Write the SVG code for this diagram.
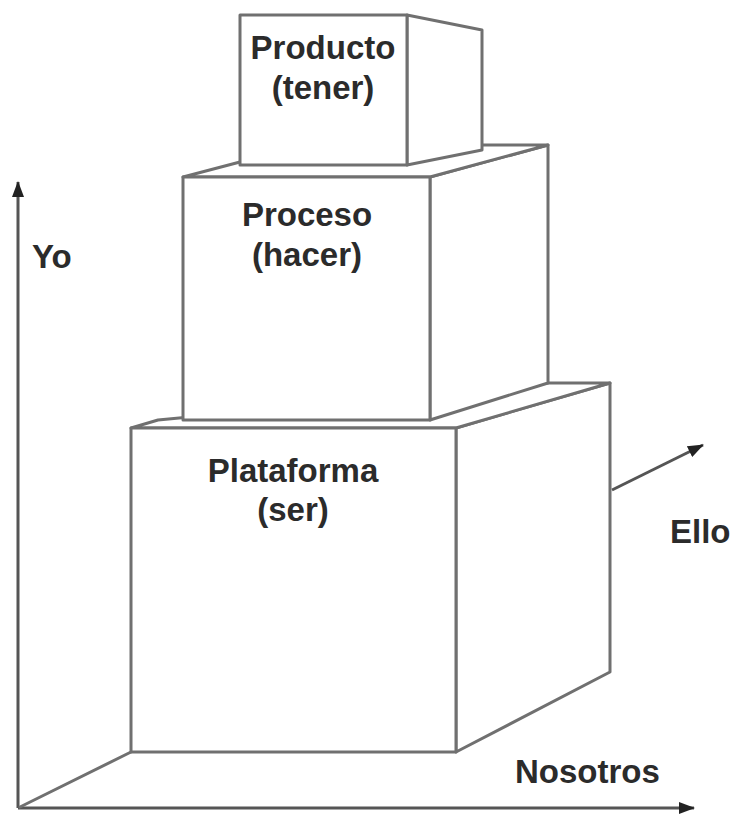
<svg xmlns="http://www.w3.org/2000/svg" width="736" height="819" viewBox="0 0 736 819">
<defs>
<marker id="ahb" markerWidth="16" markerHeight="12" refX="15" refY="6" orient="auto" markerUnits="userSpaceOnUse" viewBox="0 0 16 12">
<path d="M0,0 L16,6 L0,12 z" fill="#222"/>
</marker>
</defs>
<style>
.edge{fill:#fff;stroke:#707070;stroke-width:3;stroke-linejoin:round}
.ln{fill:none;stroke:#707070;stroke-width:3;stroke-linecap:round}
.ax{fill:none;stroke:#555;stroke-width:3}
.t{font-family:"Liberation Sans",Arial,sans-serif;font-weight:bold;font-size:33px;fill:#2b2b2b;text-anchor:middle}
.l{font-family:"Liberation Sans",Arial,sans-serif;font-weight:bold;font-size:33px;fill:#2b2b2b}
</style>
<rect width="736" height="819" fill="#fff"/>
<g id="connectors">
<line class="ax" x1="18" y1="808" x2="18" y2="182" marker-end="url(#ahb)"/>
<line class="ax" x1="18" y1="808" x2="694" y2="808" marker-end="url(#ahb)"/>
<line class="ln" x1="20" y1="807" x2="131" y2="752"/>
<line class="ax" x1="612" y1="490" x2="703" y2="445" marker-end="url(#ahb)"/>
</g>
<g id="plataforma">
<polygon class="edge" points="456,428 610,383 610,672 456,752"/>
<polygon class="edge" points="131,428 158,420 548,383 610,383 456,428"/>
<rect class="edge" x="131" y="428" width="325" height="324"/>
<text class="t" x="293" y="482">Plataforma</text>
<text class="t" x="293" y="521">(ser)</text>
</g>
<g id="proceso">
<polygon class="edge" points="430,177 548,145 548,383 430,420"/>
<polygon class="edge" points="183,177 240,162 480,145 548,145 430,177"/>
<rect class="edge" x="183" y="177" width="247" height="243"/>
<text class="t" x="307" y="226">Proceso</text>
<text class="t" x="307" y="266">(hacer)</text>
</g>
<g id="producto">
<polygon class="edge" points="407,15 482,30 482,150 407,165"/>
<rect class="edge" x="240" y="15" width="167" height="150"/>
<text class="t" x="323" y="59">Producto</text>
<text class="t" x="323" y="99">(tener)</text>
</g>
<g id="labels">
<text class="l" x="32" y="268">Yo</text>
<text class="l" x="515" y="783">Nosotros</text>
<text class="l" x="670" y="543">Ello</text>
</g>
</svg>
